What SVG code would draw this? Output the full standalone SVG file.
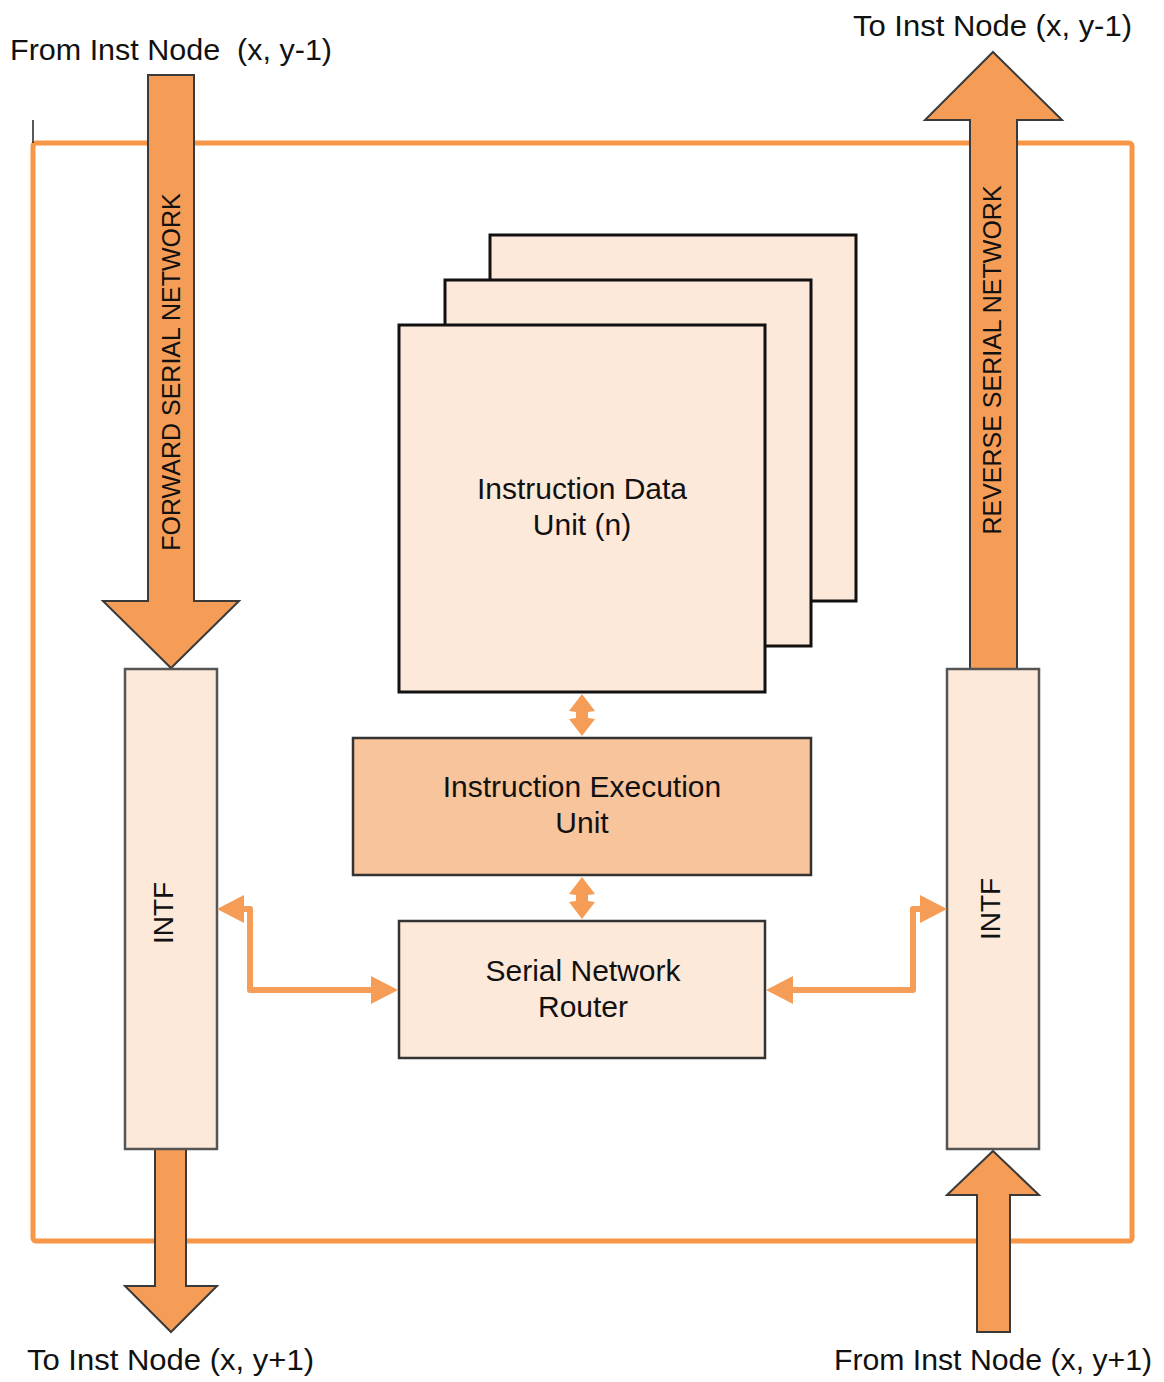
<svg xmlns="http://www.w3.org/2000/svg" width="1164" height="1382" viewBox="0 0 1164 1382">
<style>
text{font-family:"Liberation Sans",Arial,sans-serif;fill:#111;}
.lbl{font-size:30px;white-space:pre;}
.big{font-size:30px;text-anchor:middle;}
.vert{font-size:25px;text-anchor:middle;}
.intf{font-size:28px;text-anchor:middle;}
.bus{fill:#F59D56;stroke:#3a3a3a;stroke-width:2;stroke-linejoin:miter;}
.light{fill:#FDE9DA;stroke:#111;stroke-width:3;}
.intfbox{fill:#FDE9DA;stroke:#555;stroke-width:2.5;}
.conn{fill:none;stroke:#F59D56;stroke-width:6;stroke-linejoin:round;}
.dbl{fill:#F59D56;stroke:none;}
</style>
<defs>
<marker id="ah" markerUnits="userSpaceOnUse" markerWidth="27" markerHeight="28" refX="0" refY="14" orient="auto-start-reverse" viewBox="0 0 27 28">
<path d="M0,0 L27,14 L0,28 z" fill="#F59D56"/>
</marker>
</defs>
<rect width="1164" height="1382" fill="#fff"/>

<g id="frame">
<rect x="33" y="143" width="1099" height="1098" rx="3" fill="none" stroke="#F79646" stroke-width="5"/>
<line x1="33" y1="120" x2="33" y2="143" stroke="#222" stroke-width="1.5"/>
</g>

<g id="forward-network">
<polygon class="bus" points="148,75 194,75 194,601 239,601 171,668 103,601 148,601"/>
<text class="vert" transform="translate(180,372) rotate(-90)">FORWARD SERIAL NETWORK</text>
</g>

<g id="reverse-network">
<polygon class="bus" points="993,52 1062,120 1017,120 1017,669 970,669 970,120 925,120"/>
<text class="vert" transform="translate(1001,360) rotate(-90)">REVERSE SERIAL NETWORK</text>
</g>

<g id="out-bottom-left">
<polygon class="bus" points="155,1149 186,1149 186,1286 217,1286 171,1332 125,1286 155,1286"/>
</g>

<g id="in-bottom-right">
<polygon class="bus" points="993,1151 1039,1195 1010,1195 1010,1332 977,1332 977,1195 947,1195"/>
</g>

<g id="intf-left">
<rect class="intfbox" x="125" y="669" width="92" height="480"/>
<text class="intf" transform="translate(173,913) rotate(-90)">INTF</text>
</g>

<g id="intf-right">
<rect class="intfbox" x="947" y="669" width="92" height="480"/>
<text class="intf" transform="translate(1000,909) rotate(-90)">INTF</text>
</g>

<g id="instruction-data-unit">
<rect class="light" x="490" y="235" width="366" height="366"/>
<rect class="light" x="445" y="280" width="366" height="366"/>
<rect class="light" x="399" y="325" width="366" height="367"/>
<text class="big" x="582" y="499">Instruction Data</text>
<text class="big" x="582" y="535">Unit (n)</text>
</g>

<g id="instruction-execution-unit">
<rect x="353" y="738" width="458" height="137" fill="#F8C49C" stroke="#333" stroke-width="2.5"/>
<text class="big" x="582" y="797">Instruction Execution</text>
<text class="big" x="582" y="833">Unit</text>
</g>

<g id="serial-network-router">
<rect x="399" y="921" width="366" height="137" fill="#FDE9DA" stroke="#333" stroke-width="2.5"/>
<text class="big" x="583" y="981">Serial Network</text>
<text class="big" x="583" y="1017">Router</text>
</g>

<g id="connectors">
<polygon class="dbl" points="582,694 595,711 588,712 588,718 595,719 582,736 569,719 576,718 576,712 569,711"/>
<polygon class="dbl" points="582,877 595,894 588,895 588,901 595,902 582,919 569,902 576,901 576,895 569,894"/>
<path class="conn" d="M244,909 H250 V990 H371" marker-start="url(#ah)" marker-end="url(#ah)"/>
<path class="conn" d="M793,990 H913 V909 H920" marker-start="url(#ah)" marker-end="url(#ah)"/>
</g>

<g id="labels">
<text class="lbl" x="10" y="60" xml:space="preserve" textLength="322" lengthAdjust="spacingAndGlyphs">From Inst Node  (x, y-1)</text>
<text class="lbl" x="853" y="36" textLength="279" lengthAdjust="spacingAndGlyphs">To Inst Node (x, y-1)</text>
<text class="lbl" x="27" y="1370" textLength="287" lengthAdjust="spacingAndGlyphs">To Inst Node (x, y+1)</text>
<text class="lbl" x="834" y="1370" textLength="318" lengthAdjust="spacingAndGlyphs">From Inst Node (x, y+1)</text>
</g>
</svg>
